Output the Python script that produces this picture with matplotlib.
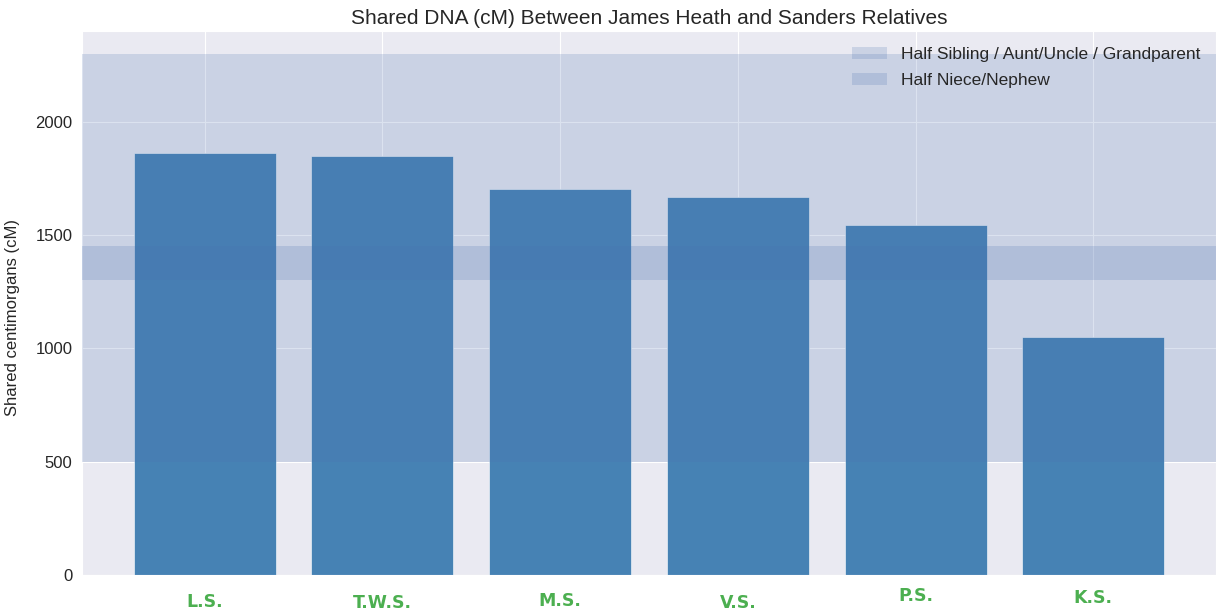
import matplotlib
matplotlib.use('Agg')
import matplotlib.pyplot as plt
import matplotlib.transforms as mtransforms
import seaborn as sns

# 値は画像から読み取り
relatives = ['L.S.', 'T.W.S.', 'M.S.', 'V.S.', 'P.S.', 'K.S.']
shared_cm = [1863, 1850, 1704, 1669, 1545, 1051]

# 関係ごとの cM 範囲
half_sibling_range = (500, 2300)
half_niece_range = (1300, 1450)

# ラベルの縦ずれ（ピクセル, 上向き正）
label_shift_px = [-8, -9, -7, -9, -2, -4]


def main():
    sns.set_style('darkgrid')
    plt.rcParams['font.family'] = ['Liberation Sans', 'DejaVu Sans']

    fig, ax = plt.subplots(figsize=(12.17, 6.11), dpi=100)
    fig.subplots_adjust(left=82 / 1217, right=1216 / 1217, top=1 - 31 / 611, bottom=1 - 575 / 611)

    x = list(range(len(relatives)))
    ax.bar(x, shared_cm, width=0.8, color='steelblue', edgecolor='white', linewidth=0.4, zorder=2)

    ax.axhspan(*half_sibling_range, color='#4C72B0', alpha=0.2, lw=0, zorder=3,
               label='Half Sibling / Aunt/Uncle / Grandparent')
    ax.axhspan(*half_niece_range, color='#4C72B0', alpha=0.2, lw=0, zorder=3,
               label='Half Niece/Nephew')

    ax.set_xticks(x)
    ax.set_xticklabels(relatives, color='#4CAF50', fontweight='bold', fontsize=12.5,
                       family='DejaVu Sans')
    for lab, dy in zip(ax.get_xticklabels(), label_shift_px):
        lab.set_transform(lab.get_transform() + mtransforms.ScaledTranslation(0, dy / 100, fig.dpi_scale_trans))

    ax.tick_params(axis='y', labelsize=12)
    ax.set_ylabel('Shared centimorgans (cM)', fontsize=12)
    ax.yaxis.set_label_coords(-0.055, 0.474)
    ax.set_title('Shared DNA (cM) Between James Heath and Sanders Relatives', fontsize=15, pad=5)
    ax.set_ylim(0, 2400)
    ax.set_xlim(-0.69, 5.69)

    ax.legend(loc='upper right', fontsize=12.5, frameon=False, labelspacing=0.65)

    fig.savefig('out.png', dpi=100)
    plt.close(fig)


if __name__ == '__main__':
    main()
